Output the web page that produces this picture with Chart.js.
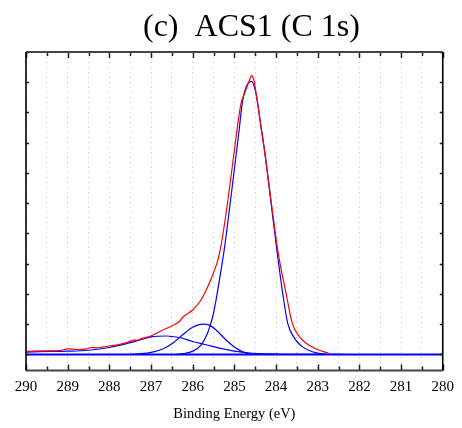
<!DOCTYPE html>
<html>
<head>
<meta charset="utf-8">
<script src="https://cdn.jsdelivr.net/npm/chart.js@4.4.1/dist/chart.umd.min.js"></script>
<style>
  html, body { margin: 0; padding: 0; background: #fff; }
  #wrap { width: 462px; height: 428px; }
</style>
</head>
<body>
<div id="wrap"><canvas id="xps" width="462" height="428"></canvas></div>
<script>
// ===== XPS C 1s fit: envelope (red) + fitted components (blue) =====
const TITLE = '(c)  ACS1 (C 1s)';
const X_TITLE = 'Binding Energy (eV)';

// measured envelope
const envE = [290.0, 289.83, 289.51, 289.19, 288.99, 288.79, 288.55, 288.43, 288.31, 288.15, 288.01,
  287.84, 287.67, 287.51, 287.39, 287.35, 287.19, 287.01, 286.79, 286.51, 286.32, 286.24, 286.0,
  285.8, 285.64, 285.52, 285.4, 285.32, 285.16, 285.0, 284.92, 284.84, 284.76, 284.64, 284.59,
  284.53, 284.48, 284.36, 284.28, 284.12, 283.96, 283.76, 283.61, 283.44, 283.28, 283.05, 282.74];
const envI = [0.10, 0.11, 0.12, 0.13, 0.185, 0.165, 0.185, 0.23, 0.22, 0.25, 0.28,
  0.31, 0.36, 0.43, 0.48, 0.47, 0.54, 0.61, 0.76, 0.94, 1.09, 1.23, 1.47,
  1.80, 2.24, 2.63, 3.1, 3.6, 5.05, 6.75, 7.6, 8.3, 8.62, 9.06, 9.22,
  9.06, 8.65, 7.52, 6.75, 5.1, 3.45, 2.02, 1.03, 0.59, 0.37, 0.19, 0.04];

// component 1: C-C / C-H
const c1E = [286.4, 286.2, 286.0, 285.8, 285.64, 285.52, 285.44, 285.36, 285.24, 285.1, 284.94,
  284.88, 284.8, 284.7, 284.59, 284.48, 284.36, 284.26, 284.12, 283.98, 283.84, 283.72, 283.56,
  283.37, 283.13, 282.81, 282.4];
const c1I = [0.0, 0.03, 0.11, 0.31, 0.72, 1.25, 1.8, 2.45, 3.5, 5.0, 6.8,
  7.5, 8.4, 8.9, 9.03, 8.62, 7.52, 6.6, 5.0, 3.45, 2.02, 1.03, 0.54,
  0.26, 0.09, 0.01, 0.0];

// component 2: C-O
const c2E = [287.5, 287.03, 286.72, 286.48, 286.24, 286.0, 285.76, 285.6, 285.44, 285.2, 284.96, 284.72, 284.4, 284.0];
const c2I = [0.0, 0.06, 0.18, 0.37, 0.65, 0.90, 1.00, 0.97, 0.81, 0.48, 0.21, 0.04, 0.0, 0.0];

// component 3: broad C=O
const c3E = [290.0, 289.5, 289.0, 288.5, 288.0, 287.5, 287.27, 287.0, 286.63, 286.32, 286.0, 285.68, 285.36, 284.96, 284.56, 284.0, 283.0];
const c3I = [0.08, 0.10, 0.11, 0.14, 0.23, 0.39, 0.48, 0.58, 0.61, 0.56, 0.43, 0.32, 0.21, 0.10, 0.04, 0.01, 0.0];

// background
const bgE = [290, 280];
const bgI = [0, 0];

const pts = (xs, ys) => xs.map((x, i) => ({ x, y: ys[i] }));
const SERIF = '"Liberation Serif", "Times New Roman", serif';

const frame = {
  id: 'frame',
  afterDatasetsDraw(chart) {
    const { ctx, chartArea: a, scales: { x, y } } = chart;
    ctx.save();
    // inward ticks
    ctx.strokeStyle = '#222';
    ctx.lineWidth = 1.5;
    x.ticks.forEach(t => {
      const px = Math.round(x.getPixelForValue(t.value)) + 0.5;
      const len = Number.isInteger(t.value) ? 6 : 4;
      ctx.beginPath();
      ctx.moveTo(px, a.top); ctx.lineTo(px, a.top + len);
      ctx.moveTo(px, a.bottom); ctx.lineTo(px, a.bottom - len);
      ctx.stroke();
    });
    y.ticks.filter(t => Number.isInteger(t.value)).forEach(t => {
      const py = Math.round(y.getPixelForValue(t.value)) + 0.5;
      ctx.beginPath();
      ctx.moveTo(a.left, py); ctx.lineTo(a.left + 3, py);
      ctx.moveTo(a.right, py); ctx.lineTo(a.right - 3, py);
      ctx.stroke();
    });
    // box
    ctx.lineWidth = 2;
    ctx.strokeStyle = '#444';
    ctx.beginPath();
    ctx.moveTo(a.left, a.top); ctx.lineTo(a.right, a.top);
    ctx.moveTo(a.left, a.bottom); ctx.lineTo(a.right, a.bottom);
    ctx.stroke();
    ctx.strokeStyle = '#000';
    ctx.lineWidth = 1.6;
    ctx.beginPath();
    ctx.moveTo(a.left, a.top); ctx.lineTo(a.left, a.bottom);
    ctx.moveTo(a.right, a.top); ctx.lineTo(a.right, a.bottom);
    ctx.stroke();
    // titles
    ctx.fillStyle = '#000';
    ctx.textBaseline = 'alphabetic';
    ctx.textAlign = 'left';
    ctx.font = '32px ' + SERIF;
    ctx.fillText(TITLE, 143, 36);
    ctx.textAlign = 'center';
    ctx.font = '14.5px ' + SERIF;
    ctx.fillText(X_TITLE, (a.left + a.right) / 2, 418);
    ctx.restore();
  }
};

const line = (label, data, color, width) => ({
  label, data, borderColor: color, borderWidth: width, pointRadius: 0,
  fill: false, showLine: true, cubicInterpolationMode: 'monotone'
});

new Chart(document.getElementById('xps'), {
  type: 'scatter',
  data: {
    datasets: [
      line('envelope', pts(envE, envI), '#ff0000', 1.2),
      line('bg', pts(bgE, bgI), '#0000ff', 2),
      line('c3', pts(c3E, c3I), '#0000ff', 1.2),
      line('c2', pts(c2E, c2I), '#0000ff', 1.2),
      line('c1', pts(c1E, c1I), '#0000ff', 1.2)
    ]
  },
  options: {
    responsive: false,
    animation: false,
    layout: { padding: { left: 26, right: 18, top: 52, bottom: 0 } },
    plugins: { legend: { display: false }, tooltip: { enabled: false }, title: { display: false } },
    scales: {
      x: {
        type: 'linear', reverse: true, min: 280, max: 290,
        afterFit: s => { s.height = 57.5; },
        border: { display: false, dash: [1, 4] },
        grid: { color: '#c4c4c4', lineWidth: 1, drawTicks: false },
        ticks: {
          stepSize: 0.5, autoSkip: false, maxRotation: 0, padding: 8, color: '#000',
          font: { family: SERIF, size: 15 },
          callback: v => Number.isInteger(v) ? String(v) : ''
        }
      },
      y: {
        min: -0.53, max: 10,
        afterFit: s => { s.width = 0; },
        border: { display: false },
        grid: { display: false, drawTicks: false },
        ticks: { display: false, stepSize: 1 }
      }
    }
  },
  plugins: [frame]
});
</script>
</body>
</html>
